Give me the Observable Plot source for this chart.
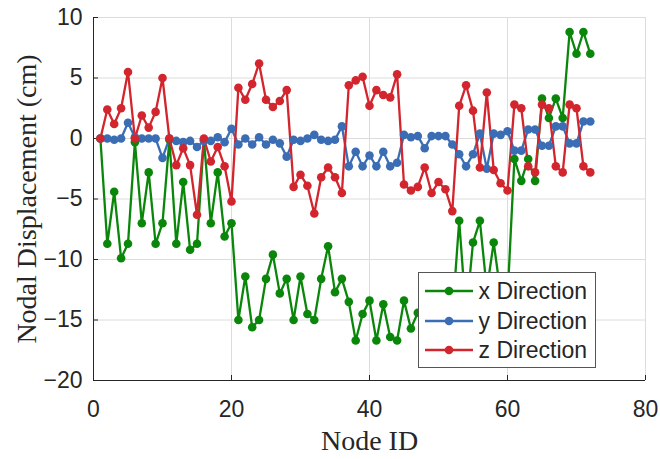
<!DOCTYPE html>
<html>
<head>
<meta charset="utf-8">
<script src="https://cdn.jsdelivr.net/npm/d3@7"></script>
<script src="https://cdn.jsdelivr.net/npm/@observablehq/plot@0.6"></script>
<style>
  html, body { margin: 0; padding: 0; background: #fff; }
  #wrap { position: relative; width: 660px; height: 459px; }
  #legend { position: absolute; left: 0; top: 0; }
</style>
</head>
<body>
<div id="wrap"></div>
<script>
// Node IDs 1..72
const nodes = [1,2,3,4,5,6,7,8,9,10,11,12,13,14,15,16,17,18,19,20,21,22,23,24,25,26,27,28,29,30,31,32,33,34,35,36,37,38,39,40,41,42,43,44,45,46,47,48,49,50,51,52,53,54,55,56,57,58,59,60,61,62,63,64,65,66,67,68,69,70,71,72];

const xDirection = [0,-8.7,-4.4,-9.9,-8.7,-0.3,-7.0,-2.8,-8.7,-7.0,
  -0.1,-8.7,-3.6,-9.2,-8.7,-0.1,-7.0,-2.8,-8.1,-7.0,
  -15.0,-11.4,-15.6,-15.0,-11.6,-9.6,-12.8,-11.6,-15.0,-11.4,
  -14.5,-15.0,-11.6,-8.9,-12.7,-11.6,-13.5,-16.7,-14.5,-13.4,
  -16.7,-13.7,-16.4,-16.7,-13.4,-15.7,-14.4,-13.5,-16.5,-14.4,
  -16.7,-14.7,-6.8,-14.6,-8.6,-6.8,-12.5,-8.6,-12.8,-13.2,
  -1.7,-3.5,-1.7,-3.5,3.3,1.7,3.3,1.7,8.8,7.0,8.8,7.0];

const yDirection = [0,0,-0.1,0,1.3,0.1,0,0,0,-1.6,
  0,-0.2,-0.3,-0.2,-0.7,-0.2,-0.2,0.1,-0.3,0.8,
  -0.5,0,-0.5,0.1,-0.5,-0.1,-0.4,-1.5,-0.1,-0.2,
  0,0.3,-0.1,-0.2,-0.1,1.0,-2.3,-1.1,-2.3,-1.4,
  -2.3,-1.1,-2.3,-2.0,0.3,0.1,0.2,-0.8,0.2,0.2,
  0.2,-0.5,-1.3,-2.3,-1.3,0.4,-2.5,0.4,0.3,0.6,
  -1.0,-1.0,0.75,0.75,-0.6,-0.6,1.0,1.0,-0.4,-0.4,1.4,1.4];

const zDirection = [0,2.4,1.2,2.5,5.5,0,1.9,0.9,2.2,5.0,
  0,-2.2,-0.8,-2.2,-6.3,0,-1.9,-0.7,-2.3,-5.2,
  4.2,3.2,4.5,6.2,3.2,2.6,3.1,4.0,-4.0,-3.0,
  -3.9,-6.2,-3.2,-2.4,-3.2,-4.5,4.4,4.8,5.1,2.7,
  4.0,3.6,3.4,5.3,-3.8,-4.3,-4.0,-2.4,-4.5,-3.6,
  -4.2,-6.0,2.7,4.4,2.3,-2.4,3.8,-2.6,-3.7,-4.3,
  2.8,2.5,-2.3,-2.8,2.8,2.5,-2.3,-2.8,2.8,2.5,-2.3,-2.8];

const seriesNames = ["x Direction", "y Direction", "z Direction"];
const seriesColors = ["#0a870a", "#3b6db5", "#d2252d"];
const xTicks = [0, 20, 40, 60, 80];
const yTicks = [-20, -15, -10, -5, 0, 5, 10];
const xLabel = "Node ID";
const yLabel = "Nodal Displacement (cm)";

const seriesValues = [xDirection, yDirection, zDirection];
const data = seriesValues.flatMap((vals, s) =>
  nodes.map((n, i) => ({node: n, value: vals[i], series: seriesNames[s]})));

const sansFont = "'Liberation Sans', Arial, Helvetica, sans-serif";
const serifFont = "'Liberation Serif', 'Times New Roman', serif";
const axisColor = "#262626";

const chart = Plot.plot({
  width: 660,
  height: 459,
  marginLeft: 93,
  marginRight: 15,
  marginTop: 17,
  marginBottom: 79,
  style: {background: "white", fontFamily: sansFont, fontSize: "23px", color: axisColor, overflow: "visible"},
  x: {domain: [0, 80]},
  y: {domain: [-20, 10]},
  color: {domain: seriesNames, range: seriesColors},
  marks: [
    Plot.gridX(xTicks, {stroke: "#dcdcdc", strokeOpacity: 1, strokeWidth: 1}),
    Plot.gridY(yTicks, {stroke: "#dcdcdc", strokeOpacity: 1, strokeWidth: 1}),
    Plot.axisX(xTicks, {tickSize: -5, tickPadding: 25, stroke: axisColor, fill: axisColor, label: null, fontSize: 23}),
    Plot.axisY(yTicks, {tickSize: -5, tickPadding: 16, stroke: axisColor, fill: axisColor, label: null, fontSize: 23}),
    Plot.ruleX([0], {stroke: axisColor, strokeWidth: 1}),
    Plot.ruleY([-20], {stroke: axisColor, strokeWidth: 1}),
    Plot.line(data, {x: "node", y: "value", z: "series", stroke: "series", strokeWidth: 2.3}),
    Plot.dot(data, {x: "node", y: "value", fill: "series", r: 4.3, stroke: null}),
    Plot.text([yLabel], {frameAnchor: "left", dx: -66, rotate: -90, textAnchor: "middle", lineAnchor: "middle", fontFamily: serifFont, fontSize: 28, fill: axisColor}),
    Plot.text([xLabel], {frameAnchor: "bottom", dy: 61, textAnchor: "middle", lineAnchor: "middle", fontFamily: serifFont, fontSize: 28, fill: axisColor})
  ]
});

const wrap = document.getElementById("wrap");
wrap.appendChild(chart);

// Legend overlay (inside the plot area, as in the reference)
const lg = d3.create("svg")
  .attr("id", "legend")
  .attr("width", 660).attr("height", 459)
  .style("pointer-events", "none");
const box = {x: 418.5, y: 272.5, w: 177, h: 95};
lg.append("rect").attr("x", box.x).attr("y", box.y).attr("width", box.w).attr("height", box.h)
  .attr("fill", "white").attr("stroke", "#555").attr("stroke-width", 1);
const rowY = [291, 321, 350];
seriesNames.forEach((name, i) => {
  const g = lg.append("g").attr("transform", `translate(${box.x}, ${rowY[i]})`);
  g.append("line").attr("x1", 6.5).attr("x2", 54.5).attr("y1", 0).attr("y2", 0)
    .attr("stroke", seriesColors[i]).attr("stroke-width", 2.3);
  g.append("circle").attr("cx", 30.5).attr("cy", 0).attr("r", 4.3).attr("fill", seriesColors[i]);
  g.append("text").attr("x", 60).attr("y", 0).attr("dy", "0.35em")
    .attr("font-family", sansFont).attr("font-size", 23).attr("fill", axisColor).text(name);
});
wrap.appendChild(lg.node());
</script>
</body>
</html>
